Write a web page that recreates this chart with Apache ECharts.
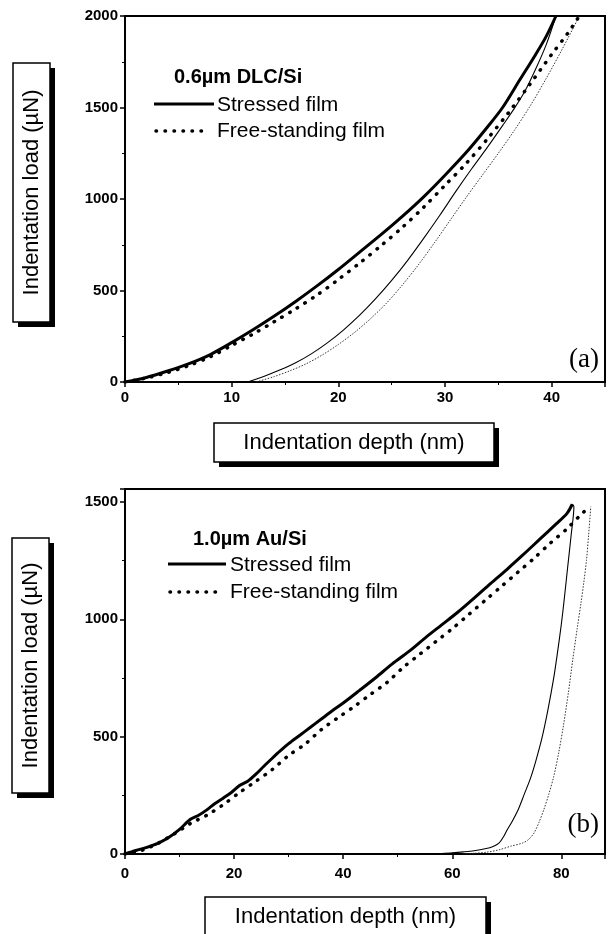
<!DOCTYPE html>
<html><head><meta charset="utf-8">
<script src="https://cdn.jsdelivr.net/npm/echarts@6/dist/echarts.min.js"></script>
<style>html,body{margin:0;padding:0;background:#fff}#c{width:611px;height:934px}</style>
</head><body><div id="c"></div>
<script>
// ---- Panel (a): 0.6µm DLC/Si ----
const aStressLoadH = [0,2,4,6,8,10,12,14,16,18,20,22,24,26,28,30,32,34,35.4,37,38.5,39.5,40.4];
const aStressLoadP = [0,25,60,100,150,215,285,360,440,525,615,710,805,905,1012,1130,1255,1395,1500,1650,1790,1890,2000];
const aStressUnH = [11.5,13,14.5,16,17.5,19,20.5,22,23.5,25,26.5,28,29.5,31,32.5,34,35.5,36.5,37.5,38.5,39.5,40.4];
const aStressUnP = [0,30,65,105,155,215,285,365,455,555,665,785,910,1040,1165,1285,1410,1495,1590,1710,1845,2000];
const aFreeLoadH = [0,2,4,6,8,10,12,14,16,18,20,22,24,26,28,30,32,34,36,38,40,41.5,42.6];
const aFreeLoadP = [0,22,52,90,138,200,262,330,400,475,560,650,745,845,955,1075,1195,1330,1475,1630,1790,1905,2000];
const aFreeUnH = [12.3,14,15.5,17,18.5,20,21.5,23,24.5,26,27.5,29,30.5,32,33.5,35,36.5,38,39.5,41,42.6];
const aFreeUnP = [0,30,62,100,148,205,270,345,430,530,640,760,885,1010,1130,1250,1375,1510,1660,1820,2000];
// ---- Panel (b): 1.0µm Au/Si ----
const bStressLoadH = [0,2,4,6,8,10,12,13.5,15,16.5,18,19.5,21,22.5,24,25.5,27,28.5,30,32,34,36,38,40,43,46,49,52,55,58,61,64,67,70,73,76,79,81,82];
const bStressLoadP = [0,15,28,45,70,105,148,165,188,215,238,262,292,310,340,375,408,440,470,505,540,575,610,643,697,752,810,862,920,975,1030,1090,1152,1212,1275,1340,1405,1450,1490];
const bStressUnH = [58,60,62,64,66,67.5,68.6,69.3,70,71,72.1,73.2,74.3,75.3,76.4,77.5,78.6,79.3,80,80.5,81.1,81.8,82.3,82];
const bStressUnP = [2,5,9,14,22,32,47,70,100,140,190,255,320,395,490,610,750,860,980,1080,1210,1360,1480,1490];
const bFreeLoadH = [0,3,6,9,12,15,18,21,24,27,30,33,36,39,42,45,48,51,54,57,60,63,66,69,72,75,78,81,84,85.4];
const bFreeLoadP = [0,15,45,85,130,165,210,262,310,360,420,468,530,580,628,680,730,795,850,905,960,1020,1080,1140,1200,1260,1325,1385,1455,1480];
const bFreeUnH = [62,64,66.4,68.6,70.7,72.9,74,75,75.9,76.8,77.7,78.6,79.5,80.4,81.3,82.1,82.9,83.6,84.1,84.6,85,85.4];
const bFreeUnP = [0,3,8,18,33,47,62,90,135,190,255,330,430,550,690,830,960,1070,1155,1250,1360,1480];

const legendNames = ['Stressed film','Free-standing film'];
const titleA = '0.6\u00b5m DLC/Si';
const titleB = '1.0\u00b5m Au/Si';
const xTicksA = {min:0,max:45,interval:10};
const yTicksA = {min:0,max:2000,interval:500};
const xTicksB = {min:0,max:88,interval:20};
const yTicksB = {min:0,max:1555,interval:500};

const zip = (h,p) => h.map((v,i)=>[v,p[i]]);
const FONT = 'Liberation Sans, Arial, sans-serif';

function axis(t, gi, showMax, margin){
  return Object.assign({
    type:'value', gridIndex:gi,
    axisLine:{show:true,onZero:false,lineStyle:{color:'#000',width:2}},
    axisTick:{show:true,length:5,lineStyle:{color:'#000',width:1.5}},
    minorTick:{show:true,splitNumber:2,length:3,lineStyle:{color:'#000',width:1}},
    splitLine:{show:false},
    axisLabel:{color:'#000',fontFamily:FONT,fontWeight:'bold',fontSize:15,margin:margin,
      showMaxLabel:showMax,formatter:v=>String(v)}
  }, t);
}
const thick = {color:'#000',width:3};
const bigDots = {color:'#000',width:3.5,type:[0.5,8.5],cap:'round'};
const thinSolid = {color:'#000',width:1.1};
const thinDots = {color:'#333',width:1,type:[1.5,1.5]};
function ser(name, data, ls, gi){
  return {type:'line',name:name,data:data,xAxisIndex:gi,yAxisIndex:gi,showSymbol:false,symbol:'none',
    smooth:0.3,lineStyle:ls,itemStyle:{color:'#000'},silent:true,animation:false};
}
function box(x,y,w,h,text,vertical){
  const els = [
    {type:'rect',shape:{x:x+5,y:y+5,width:w,height:h},style:{fill:'#000'}},
    {type:'rect',shape:{x:x,y:y,width:w,height:h},style:{fill:'#fff',stroke:'#000',lineWidth:1.5}}
  ];
  const t = {type:'text',x:x+w/2,y:y+h/2,style:{text:text,fill:'#000',font:'22px '+FONT,textAlign:'center',textVerticalAlign:'middle'}};
  if (vertical) t.rotation = Math.PI/2;
  els.push(t);
  return els;
}
function legend(title, tx, ty, lx, lw, y1, y2, textX){
  const font = '21px '+FONT;
  return [
    {type:'text',x:tx,y:ty,style:{text:title,fill:'#000',font:'bold 20px '+FONT,textVerticalAlign:'middle'}},
    {type:'line',shape:{x1:lx,y1:y1,x2:lx+lw,y2:y1},style:{stroke:'#000',lineWidth:3}},
    {type:'text',x:textX,y:y1+1,style:{text:legendNames[0],fill:'#000',font:font,textVerticalAlign:'middle'}},
    {type:'line',shape:{x1:lx+2,y1:y2,x2:lx+lw-6,y2:y2},style:{stroke:'#000',lineWidth:3.5,lineDash:[0.5,8.5],lineCap:'round'}},
    {type:'text',x:textX,y:y2,style:{text:legendNames[1],fill:'#000',font:font,textVerticalAlign:'middle'}}
  ];
}

const chart = echarts.init(document.getElementById('c'), null, {renderer:'canvas'});
chart.setOption({
  animation:false,
  backgroundColor:'#fff',
  grid:[
    {left:125,top:16,width:480,height:366,show:true,borderColor:'#000',borderWidth:2,backgroundColor:'transparent'},
    {left:125,top:489,width:480,height:365,show:true,borderColor:'#000',borderWidth:2,backgroundColor:'transparent'}
  ],
  xAxis:[axis(xTicksA,0,false,8), axis(xTicksB,1,false,12)],
  yAxis:[axis(yTicksA,0,true,7), axis(yTicksB,1,false,7)],
  series:[
    ser(legendNames[0], zip(aStressLoadH,aStressLoadP), thick, 0),
    ser(legendNames[1], zip(aFreeLoadH,aFreeLoadP), bigDots, 0),
    ser('Stressed film (unloading)', zip(aStressUnH,aStressUnP), thinSolid, 0),
    ser('Free-standing film (unloading)', zip(aFreeUnH,aFreeUnP), thinDots, 0),
    ser(legendNames[0]+' b', zip(bStressLoadH,bStressLoadP), thick, 1),
    ser(legendNames[1]+' b', zip(bFreeLoadH,bFreeLoadP), bigDots, 1),
    ser('Stressed film (unloading) b', zip(bStressUnH,bStressUnP), thinSolid, 1),
    ser('Free-standing film (unloading) b', zip(bFreeUnH,bFreeUnP), thinDots, 1)
  ],
  graphic:[].concat(
    box(13,63,37,259,'Indentation load (\u00b5N)',true),
    box(214,423,280,39,'Indentation depth (nm)',false),
    box(12,538,37,255,'Indentation load (\u00b5N)',true),
    box(205,897,281,40,'Indentation depth (nm)',false),
    legend(titleA,174,77,154,60,104,131,217),
    legend(titleB,193,539,168,58,564,592,230),
    [
      {type:'text',x:599,y:360,style:{text:'(a)',fill:'#000',font:'27px Liberation Serif, Times New Roman, serif',textAlign:'right',textVerticalAlign:'middle'}},
      {type:'text',x:599,y:825,style:{text:'(b)',fill:'#000',font:'27px Liberation Serif, Times New Roman, serif',textAlign:'right',textVerticalAlign:'middle'}}
    ]
  )
});
</script></body></html>
